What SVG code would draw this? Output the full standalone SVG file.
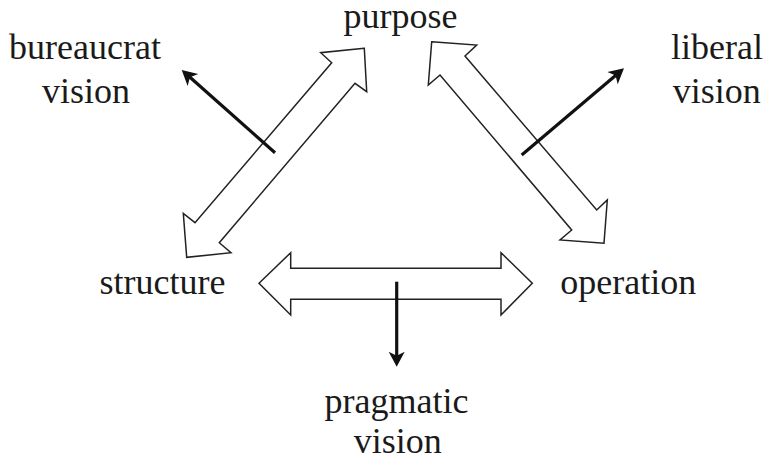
<svg xmlns="http://www.w3.org/2000/svg" width="766" height="460" viewBox="0 0 766 460">
<style>
.lbl{font-size:36px;fill:#1a1a1a;text-anchor:middle}
.dbl{fill:#fff;stroke:#222;stroke-width:1.5;stroke-linejoin:miter}
.vis{fill:none;stroke:#111;stroke-width:3.2}
</style>
<defs>
<marker id="ah" markerUnits="userSpaceOnUse" markerWidth="30" markerHeight="30" viewBox="-15 -15 30 30" refX="0" refY="0" orient="auto">
<path d="M8,0 L-7,-8 L-3,0 L-7,8 Z" fill="#111"/>
</marker>
</defs>
<rect width="766" height="460" fill="#fff"/>
<g id="connectors">
<polygon id="structure-purpose" class="dbl" points="364.3,48.3 320.7,52.7 331.7,62.7 195,222.7 183.3,213.3 186.7,257.3 231,252.7 219.3,242.7 355,83.3 366.7,91.7"/>
<polygon id="purpose-operation" class="dbl" points="431.7,41.7 476.7,45 465,56 596.7,210 607.3,200 604,243.3 560,240 571.7,230 440,75 428.3,85"/>
<polygon id="structure-operation" class="dbl" points="259,283.3 290.7,252.7 290.7,268.3 501,268.3 501,252.7 532.3,283.3 501,315 501,299.3 290.7,299.3 290.7,315"/>
<line id="to-bureaucrat" class="vis" x1="275" y1="152.7" x2="187.7" y2="75.3" marker-end="url(#ah)"/>
<line id="to-liberal" class="vis" x1="521.7" y1="155" x2="617.9" y2="73.5" marker-end="url(#ah)"/>
<line id="to-pragmatic" class="vis" x1="396.7" y1="281.7" x2="396.7" y2="358.7" marker-end="url(#ah)"/>
</g>
<g id="purpose"><text class="lbl" font-family="Liberation Serif" x="400.5" y="28">purpose</text></g>
<g id="structure"><text class="lbl" font-family="Liberation Serif" x="162.5" y="294.3">structure</text></g>
<g id="operation"><text class="lbl" font-family="Liberation Serif" x="628.3" y="294.3">operation</text></g>
<g id="bureaucrat-vision"><text class="lbl" font-family="Liberation Serif" x="85" y="59.3">bureaucrat</text><text class="lbl" font-family="Liberation Serif" x="86" y="102.7">vision</text></g>
<g id="liberal-vision"><text class="lbl" font-family="Liberation Serif" x="717" y="59.3">liberal</text><text class="lbl" font-family="Liberation Serif" x="716.7" y="102.7">vision</text></g>
<g id="pragmatic-vision"><text class="lbl" font-family="Liberation Serif" x="396.5" y="413.3">pragmatic</text><text class="lbl" font-family="Liberation Serif" x="397.8" y="453.3">vision</text></g>
</svg>
